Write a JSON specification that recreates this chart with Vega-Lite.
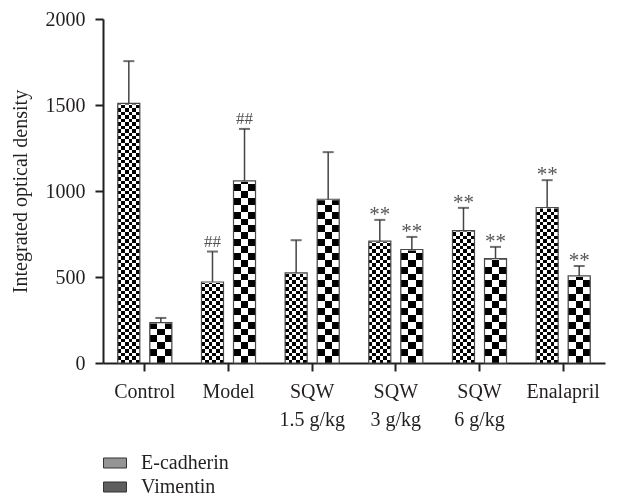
{
  "$schema": "https://vega.github.io/schema/vega-lite/v6.json",
  "width": 502,
  "height": 344,
  "autosize": {"type": "none"},
  "padding": {"left": 103, "top": 19, "right": 13, "bottom": 138},
  "background": "white",
  "config": {
    "view": {"stroke": null},
    "axis": {"labelFont": "Liberation Serif", "titleFont": "Liberation Serif", "labelColor": "#231f20", "titleColor": "#231f20", "domainColor": "#231f20", "tickColor": "#231f20", "domainWidth": 2, "tickWidth": 2, "grid": false, "labelFontSize": 20, "titleFontSize": 20, "titleFontWeight": "normal"}
  },
  "data": {"values": [
    {"group": "Control", "series": "E-cadherin", "value": 1509, "upper": 1755, "sig": ""},
    {"group": "Control", "series": "Vimentin", "value": 235, "upper": 262, "sig": ""},
    {"group": "Model", "series": "E-cadherin", "value": 471, "upper": 648, "sig": "##"},
    {"group": "Model", "series": "Vimentin", "value": 1059, "upper": 1361, "sig": "##"},
    {"group": "SQW 1.5 g/kg", "series": "E-cadherin", "value": 524, "upper": 714, "sig": ""},
    {"group": "SQW 1.5 g/kg", "series": "Vimentin", "value": 952, "upper": 1226, "sig": ""},
    {"group": "SQW 3 g/kg", "series": "E-cadherin", "value": 708, "upper": 832, "sig": "**"},
    {"group": "SQW 3 g/kg", "series": "Vimentin", "value": 660, "upper": 733, "sig": "**"},
    {"group": "SQW 6 g/kg", "series": "E-cadherin", "value": 770, "upper": 902, "sig": "**"},
    {"group": "SQW 6 g/kg", "series": "Vimentin", "value": 607, "upper": 675, "sig": "**"},
    {"group": "Enalapril", "series": "E-cadherin", "value": 904, "upper": 1063, "sig": "**"},
    {"group": "Enalapril", "series": "Vimentin", "value": 506, "upper": 564, "sig": "**"}
  ]},
  "encoding": {
    "x": {"field": "group", "type": "nominal", "sort": null, "title": null,
      "scale": {"paddingInner": 0.354, "paddingOuter": 0.177},
      "axis": {"labelAngle": 0, "tickSize": 8, "labelPadding": 10, "labelBaseline": "top", "labelLineHeight": 28,
        "labelExpr": "substring(datum.label,0,3)=='SQW' ? ['SQW', substring(datum.label,4)] : datum.label"}},
    "xOffset": {"field": "series", "type": "nominal", "scale": {"paddingInner": 0.3125, "paddingOuter": 0}}
  },
  "layer": [
    {
      "mark": {"type": "bar", "strokeWidth": 0},
      "encoding": {
        "y": {"field": "value", "type": "quantitative", "title": "Integrated optical density",
          "scale": {"domain": [0, 2000], "nice": false},
          "axis": {"values": [0, 500, 1000, 1500, 2000], "format": "d", "tickSize": 8, "labelPadding": 10, "titlePadding": 15}},
        "fill": {"field": "series", "type": "nominal", "scale": {"range": ["#959595", "#5e5e5e"]},
          "legend": {"orient": "none", "legendX": 0, "legendY": 432, "direction": "vertical", "title": null,
            "symbolType": "M-1,-0.435H1V0.435H-1Z", "symbolSize": 529, "symbolStrokeColor": "#333", "symbolStrokeWidth": 1,
            "labelFont": "Liberation Serif", "labelFontSize": 20, "labelColor": "#231f20", "labelOffset": 14, "rowPadding": 2, "padding": 0}}
      }
    },
    {
      "mark": {"type": "bar", "strokeWidth": 0},
      "encoding": {
        "y": {"field": "value", "type": "quantitative"},
        "fill": {"condition": {"test": "datum.series === 'E-cadherin'", "value": {"gradient": "linear", "x1": 0, "y1": 0, "x2": 1, "y2": 0, "stops": [{"offset":0,"color":"#000"},{"offset":0.1667,"color":"#000"},{"offset":0.1667,"color":"#fff"},{"offset":0.3333,"color":"#fff"},{"offset":0.3333,"color":"#000"},{"offset":0.5,"color":"#000"},{"offset":0.5,"color":"#fff"},{"offset":0.6667,"color":"#fff"},{"offset":0.6667,"color":"#000"},{"offset":0.8333,"color":"#000"},{"offset":0.8333,"color":"#fff"},{"offset":1,"color":"#fff"}]}},
          "value": {"gradient": "linear", "x1": 0, "y1": 0, "x2": 1, "y2": 0, "stops": [{"offset":0,"color":"#000"},{"offset":0.3333,"color":"#000"},{"offset":0.3333,"color":"#fff"},{"offset":0.6667,"color":"#fff"},{"offset":0.6667,"color":"#000"},{"offset":1,"color":"#000"}]}}
      }
    },
    {
      "mark": {"type": "bar", "strokeWidth": 0, "blend": "difference"},
      "encoding": {
        "y": {"datum": 0, "type": "quantitative"},
        "y2": {"datum": 2000},
        "fill": {"condition": {"test": "datum.series === 'E-cadherin'", "value": {"gradient": "linear", "x1": 0, "y1": 0, "x2": 0, "y2": 1, "stops": [
{"offset":0,"color":"#000"},{"offset":0.01,"color":"#000"},{"offset":0.01,"color":"#fff"},{"offset":0.02,"color":"#fff"},{"offset":0.02,"color":"#000"},{"offset":0.03,"color":"#000"},{"offset":0.03,"color":"#fff"},{"offset":0.04,"color":"#fff"},{"offset":0.04,"color":"#000"},{"offset":0.05,"color":"#000"},{"offset":0.05,"color":"#fff"},{"offset":0.06,"color":"#fff"},{"offset":0.06,"color":"#000"},{"offset":0.07,"color":"#000"},{"offset":0.07,"color":"#fff"},{"offset":0.08,"color":"#fff"},{"offset":0.08,"color":"#000"},{"offset":0.09,"color":"#000"},{"offset":0.09,"color":"#fff"},{"offset":0.1,"color":"#fff"},
{"offset":0.1,"color":"#000"},{"offset":0.11,"color":"#000"},{"offset":0.11,"color":"#fff"},{"offset":0.12,"color":"#fff"},{"offset":0.12,"color":"#000"},{"offset":0.13,"color":"#000"},{"offset":0.13,"color":"#fff"},{"offset":0.14,"color":"#fff"},{"offset":0.14,"color":"#000"},{"offset":0.15,"color":"#000"},{"offset":0.15,"color":"#fff"},{"offset":0.16,"color":"#fff"},{"offset":0.16,"color":"#000"},{"offset":0.17,"color":"#000"},{"offset":0.17,"color":"#fff"},{"offset":0.18,"color":"#fff"},{"offset":0.18,"color":"#000"},{"offset":0.19,"color":"#000"},{"offset":0.19,"color":"#fff"},{"offset":0.2,"color":"#fff"},
{"offset":0.2,"color":"#000"},{"offset":0.21,"color":"#000"},{"offset":0.21,"color":"#fff"},{"offset":0.22,"color":"#fff"},{"offset":0.22,"color":"#000"},{"offset":0.23,"color":"#000"},{"offset":0.23,"color":"#fff"},{"offset":0.24,"color":"#fff"},{"offset":0.24,"color":"#000"},{"offset":0.25,"color":"#000"},{"offset":0.25,"color":"#fff"},{"offset":0.26,"color":"#fff"},{"offset":0.26,"color":"#000"},{"offset":0.27,"color":"#000"},{"offset":0.27,"color":"#fff"},{"offset":0.28,"color":"#fff"},{"offset":0.28,"color":"#000"},{"offset":0.29,"color":"#000"},{"offset":0.29,"color":"#fff"},{"offset":0.3,"color":"#fff"},
{"offset":0.3,"color":"#000"},{"offset":0.31,"color":"#000"},{"offset":0.31,"color":"#fff"},{"offset":0.32,"color":"#fff"},{"offset":0.32,"color":"#000"},{"offset":0.33,"color":"#000"},{"offset":0.33,"color":"#fff"},{"offset":0.34,"color":"#fff"},{"offset":0.34,"color":"#000"},{"offset":0.35,"color":"#000"},{"offset":0.35,"color":"#fff"},{"offset":0.36,"color":"#fff"},{"offset":0.36,"color":"#000"},{"offset":0.37,"color":"#000"},{"offset":0.37,"color":"#fff"},{"offset":0.38,"color":"#fff"},{"offset":0.38,"color":"#000"},{"offset":0.39,"color":"#000"},{"offset":0.39,"color":"#fff"},{"offset":0.4,"color":"#fff"},
{"offset":0.4,"color":"#000"},{"offset":0.41,"color":"#000"},{"offset":0.41,"color":"#fff"},{"offset":0.42,"color":"#fff"},{"offset":0.42,"color":"#000"},{"offset":0.43,"color":"#000"},{"offset":0.43,"color":"#fff"},{"offset":0.44,"color":"#fff"},{"offset":0.44,"color":"#000"},{"offset":0.45,"color":"#000"},{"offset":0.45,"color":"#fff"},{"offset":0.46,"color":"#fff"},{"offset":0.46,"color":"#000"},{"offset":0.47,"color":"#000"},{"offset":0.47,"color":"#fff"},{"offset":0.48,"color":"#fff"},{"offset":0.48,"color":"#000"},{"offset":0.49,"color":"#000"},{"offset":0.49,"color":"#fff"},{"offset":0.5,"color":"#fff"},
{"offset":0.5,"color":"#000"},{"offset":0.51,"color":"#000"},{"offset":0.51,"color":"#fff"},{"offset":0.52,"color":"#fff"},{"offset":0.52,"color":"#000"},{"offset":0.53,"color":"#000"},{"offset":0.53,"color":"#fff"},{"offset":0.54,"color":"#fff"},{"offset":0.54,"color":"#000"},{"offset":0.55,"color":"#000"},{"offset":0.55,"color":"#fff"},{"offset":0.56,"color":"#fff"},{"offset":0.56,"color":"#000"},{"offset":0.57,"color":"#000"},{"offset":0.57,"color":"#fff"},{"offset":0.58,"color":"#fff"},{"offset":0.58,"color":"#000"},{"offset":0.59,"color":"#000"},{"offset":0.59,"color":"#fff"},{"offset":0.6,"color":"#fff"},
{"offset":0.6,"color":"#000"},{"offset":0.61,"color":"#000"},{"offset":0.61,"color":"#fff"},{"offset":0.62,"color":"#fff"},{"offset":0.62,"color":"#000"},{"offset":0.63,"color":"#000"},{"offset":0.63,"color":"#fff"},{"offset":0.64,"color":"#fff"},{"offset":0.64,"color":"#000"},{"offset":0.65,"color":"#000"},{"offset":0.65,"color":"#fff"},{"offset":0.66,"color":"#fff"},{"offset":0.66,"color":"#000"},{"offset":0.67,"color":"#000"},{"offset":0.67,"color":"#fff"},{"offset":0.68,"color":"#fff"},{"offset":0.68,"color":"#000"},{"offset":0.69,"color":"#000"},{"offset":0.69,"color":"#fff"},{"offset":0.7,"color":"#fff"},
{"offset":0.7,"color":"#000"},{"offset":0.71,"color":"#000"},{"offset":0.71,"color":"#fff"},{"offset":0.72,"color":"#fff"},{"offset":0.72,"color":"#000"},{"offset":0.73,"color":"#000"},{"offset":0.73,"color":"#fff"},{"offset":0.74,"color":"#fff"},{"offset":0.74,"color":"#000"},{"offset":0.75,"color":"#000"},{"offset":0.75,"color":"#fff"},{"offset":0.76,"color":"#fff"},{"offset":0.76,"color":"#000"},{"offset":0.77,"color":"#000"},{"offset":0.77,"color":"#fff"},{"offset":0.78,"color":"#fff"},{"offset":0.78,"color":"#000"},{"offset":0.79,"color":"#000"},{"offset":0.79,"color":"#fff"},{"offset":0.8,"color":"#fff"},
{"offset":0.8,"color":"#000"},{"offset":0.81,"color":"#000"},{"offset":0.81,"color":"#fff"},{"offset":0.82,"color":"#fff"},{"offset":0.82,"color":"#000"},{"offset":0.83,"color":"#000"},{"offset":0.83,"color":"#fff"},{"offset":0.84,"color":"#fff"},{"offset":0.84,"color":"#000"},{"offset":0.85,"color":"#000"},{"offset":0.85,"color":"#fff"},{"offset":0.86,"color":"#fff"},{"offset":0.86,"color":"#000"},{"offset":0.87,"color":"#000"},{"offset":0.87,"color":"#fff"},{"offset":0.88,"color":"#fff"},{"offset":0.88,"color":"#000"},{"offset":0.89,"color":"#000"},{"offset":0.89,"color":"#fff"},{"offset":0.9,"color":"#fff"},
{"offset":0.9,"color":"#000"},{"offset":0.91,"color":"#000"},{"offset":0.91,"color":"#fff"},{"offset":0.92,"color":"#fff"},{"offset":0.92,"color":"#000"},{"offset":0.93,"color":"#000"},{"offset":0.93,"color":"#fff"},{"offset":0.94,"color":"#fff"},{"offset":0.94,"color":"#000"},{"offset":0.95,"color":"#000"},{"offset":0.95,"color":"#fff"},{"offset":0.96,"color":"#fff"},{"offset":0.96,"color":"#000"},{"offset":0.97,"color":"#000"},{"offset":0.97,"color":"#fff"},{"offset":0.98,"color":"#fff"},{"offset":0.98,"color":"#000"},{"offset":0.99,"color":"#000"},{"offset":0.99,"color":"#fff"},{"offset":1,"color":"#fff"}
]}},
          "value": {"gradient": "linear", "x1": 0, "y1": 0, "x2": 0, "y2": 1, "stops": [
{"offset":0,"color":"#000"},{"offset":0.02,"color":"#000"},{"offset":0.02,"color":"#fff"},{"offset":0.04,"color":"#fff"},{"offset":0.04,"color":"#000"},{"offset":0.06,"color":"#000"},{"offset":0.06,"color":"#fff"},{"offset":0.08,"color":"#fff"},{"offset":0.08,"color":"#000"},{"offset":0.1,"color":"#000"},
{"offset":0.1,"color":"#fff"},{"offset":0.12,"color":"#fff"},{"offset":0.12,"color":"#000"},{"offset":0.14,"color":"#000"},{"offset":0.14,"color":"#fff"},{"offset":0.16,"color":"#fff"},{"offset":0.16,"color":"#000"},{"offset":0.18,"color":"#000"},{"offset":0.18,"color":"#fff"},{"offset":0.2,"color":"#fff"},
{"offset":0.2,"color":"#000"},{"offset":0.22,"color":"#000"},{"offset":0.22,"color":"#fff"},{"offset":0.24,"color":"#fff"},{"offset":0.24,"color":"#000"},{"offset":0.26,"color":"#000"},{"offset":0.26,"color":"#fff"},{"offset":0.28,"color":"#fff"},{"offset":0.28,"color":"#000"},{"offset":0.3,"color":"#000"},
{"offset":0.3,"color":"#fff"},{"offset":0.32,"color":"#fff"},{"offset":0.32,"color":"#000"},{"offset":0.34,"color":"#000"},{"offset":0.34,"color":"#fff"},{"offset":0.36,"color":"#fff"},{"offset":0.36,"color":"#000"},{"offset":0.38,"color":"#000"},{"offset":0.38,"color":"#fff"},{"offset":0.4,"color":"#fff"},
{"offset":0.4,"color":"#000"},{"offset":0.42,"color":"#000"},{"offset":0.42,"color":"#fff"},{"offset":0.44,"color":"#fff"},{"offset":0.44,"color":"#000"},{"offset":0.46,"color":"#000"},{"offset":0.46,"color":"#fff"},{"offset":0.48,"color":"#fff"},{"offset":0.48,"color":"#000"},{"offset":0.5,"color":"#000"},
{"offset":0.5,"color":"#fff"},{"offset":0.52,"color":"#fff"},{"offset":0.52,"color":"#000"},{"offset":0.54,"color":"#000"},{"offset":0.54,"color":"#fff"},{"offset":0.56,"color":"#fff"},{"offset":0.56,"color":"#000"},{"offset":0.58,"color":"#000"},{"offset":0.58,"color":"#fff"},{"offset":0.6,"color":"#fff"},
{"offset":0.6,"color":"#000"},{"offset":0.62,"color":"#000"},{"offset":0.62,"color":"#fff"},{"offset":0.64,"color":"#fff"},{"offset":0.64,"color":"#000"},{"offset":0.66,"color":"#000"},{"offset":0.66,"color":"#fff"},{"offset":0.68,"color":"#fff"},{"offset":0.68,"color":"#000"},{"offset":0.7,"color":"#000"},
{"offset":0.7,"color":"#fff"},{"offset":0.72,"color":"#fff"},{"offset":0.72,"color":"#000"},{"offset":0.74,"color":"#000"},{"offset":0.74,"color":"#fff"},{"offset":0.76,"color":"#fff"},{"offset":0.76,"color":"#000"},{"offset":0.78,"color":"#000"},{"offset":0.78,"color":"#fff"},{"offset":0.8,"color":"#fff"},
{"offset":0.8,"color":"#000"},{"offset":0.82,"color":"#000"},{"offset":0.82,"color":"#fff"},{"offset":0.84,"color":"#fff"},{"offset":0.84,"color":"#000"},{"offset":0.86,"color":"#000"},{"offset":0.86,"color":"#fff"},{"offset":0.88,"color":"#fff"},{"offset":0.88,"color":"#000"},{"offset":0.9,"color":"#000"},
{"offset":0.9,"color":"#fff"},{"offset":0.92,"color":"#fff"},{"offset":0.92,"color":"#000"},{"offset":0.94,"color":"#000"},{"offset":0.94,"color":"#fff"},{"offset":0.96,"color":"#fff"},{"offset":0.96,"color":"#000"},{"offset":0.98,"color":"#000"},{"offset":0.98,"color":"#fff"},{"offset":1,"color":"#fff"}
]}}
      }
    },
    {
      "mark": {"type": "bar", "fill": "white", "stroke": "white", "strokeWidth": 2},
      "encoding": {
        "y": {"field": "value", "type": "quantitative"},
        "y2": {"datum": 2000}
      }
    },
    {
      "mark": {"type": "bar", "fillOpacity": 0, "stroke": "#4a4a4a", "strokeWidth": 1.2},
      "encoding": {
        "y": {"field": "value", "type": "quantitative"}
      }
    },
    {
      "mark": {"type": "rule", "color": "#444", "strokeWidth": 1.5},
      "encoding": {
        "y": {"field": "value", "type": "quantitative"},
        "y2": {"field": "upper"}
      }
    },
    {
      "mark": {"type": "tick", "color": "#333", "size": 11, "thickness": 2, "orient": "horizontal"},
      "encoding": {
        "y": {"field": "upper", "type": "quantitative"}
      }
    },
    {
      "transform": [{"filter": "datum.sig === '##'"}],
      "mark": {"type": "text", "font": "Liberation Serif", "fontSize": 17, "color": "#555", "baseline": "alphabetic", "dy": -5},
      "encoding": {
        "y": {"field": "upper", "type": "quantitative"},
        "text": {"field": "sig"}
      }
    },
    {
      "transform": [{"filter": "datum.sig === '**'"}],
      "mark": {"type": "text", "font": "Liberation Serif", "fontSize": 21, "color": "#555", "baseline": "alphabetic", "dy": 1},
      "encoding": {
        "y": {"field": "upper", "type": "quantitative"},
        "text": {"field": "sig"}
      }
    }
  ]
}
